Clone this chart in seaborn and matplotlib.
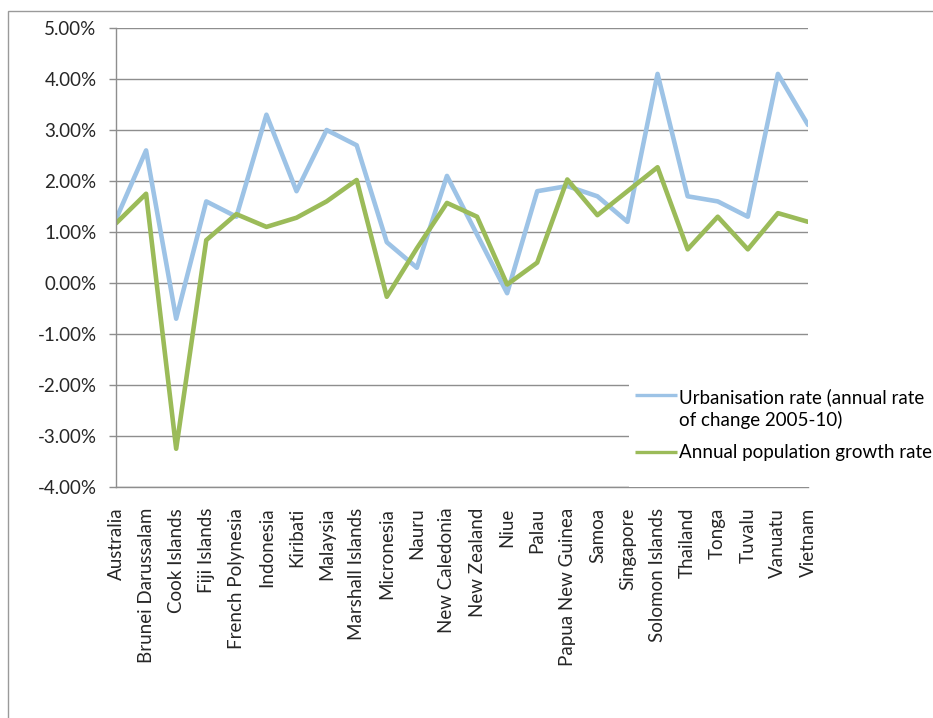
import matplotlib
matplotlib.use("Agg")
import matplotlib.pyplot as plt
from matplotlib.lines import Line2D
from matplotlib.patches import Rectangle
import numpy as np
import pandas as pd
import seaborn as sns

# Pacific / Asia urbanisation vs population growth (% per year)
countries = [
    "Australia", "Brunei Darussalam", "Cook Islands", "Fiji Islands",
    "French Polynesia", "Indonesia", "Kiribati", "Malaysia",
    "Marshall Islands", "Micronesia", "Nauru", "New Caledonia",
    "New Zealand", "Niue", "Palau", "Papua New Guinea", "Samoa",
    "Singapore", "Solomon Islands", "Thailand", "Tonga", "Tuvalu",
    "Vanuatu", "Vietnam",
]
urbanisation = [
    1.25, 2.6, -0.7, 1.6, 1.3, 3.3, 1.8, 3.0, 2.7, 0.8, 0.3, 2.1,
    0.95, -0.2, 1.8, 1.9, 1.7, 1.2, 4.1, 1.7, 1.6, 1.3, 4.1, 3.1,
]
population_growth = [
    1.17, 1.75, -3.25, 0.84, 1.35, 1.1, 1.28, 1.6, 2.02, -0.27, 0.68, 1.57,
    1.3, -0.03, 0.4, 2.03, 1.33, 1.8, 2.27, 0.66, 1.3, 0.66, 1.37, 1.2,
]
y_ticks = [-4, -3, -2, -1, 0, 1, 2, 3, 4, 5]

urban_label = "Urbanisation rate (annual rate\nof change 2005-10)"
growth_label = "Annual population growth rate"

BLUE = "#9DC3E6"
GREEN = "#9BBB59"
GRID = "#8E8E8E"
FONT_SIZE = 13.5

sns.set_style("white")
plt.rcParams["font.family"] = ["Lato", "DejaVu Sans"]
plt.rcParams["text.color"] = "#000000"

W, H = 933, 718
fig = plt.figure(figsize=(W / 100, H / 100), dpi=100)


def fx(px):
    return px / W


def fy(py):
    return 1 - py / H


ax = fig.add_axes([fx(116), fy(487), fx(808) - fx(116), fy(28) - fy(487)])

df = pd.DataFrame({
    "pos": np.arange(len(countries)),
    "country": countries,
    urban_label: urbanisation,
    growth_label: population_growth,
})
long_df = df.melt(id_vars=["pos", "country"], var_name="series", value_name="rate")

sns.lineplot(
    data=long_df, x="pos", y="rate", hue="series",
    hue_order=[urban_label, growth_label],
    palette=[BLUE, GREEN], linewidth=3.3, sort=False,
    legend=False, ax=ax,
)

ax.set_xlim(0, len(countries) - 1)
ax.set_ylim(y_ticks[0], y_ticks[-1])
ax.set_yticks(y_ticks)
ax.set_yticklabels([f"{v:.2f}%" for v in y_ticks], fontsize=FONT_SIZE)
ax.set_xticks(df["pos"])
ax.set_xticklabels(countries, rotation=90, fontsize=FONT_SIZE)
ax.set_xlabel("")
ax.set_ylabel("")

ax.set_axisbelow(True)
ax.grid(axis="y", color=GRID, linewidth=1.0)
ax.grid(axis="x", visible=False)
for side in ("top", "right"):
    ax.spines[side].set_visible(False)
for side in ("left", "bottom"):
    ax.spines[side].set_color(GRID)
    ax.spines[side].set_linewidth(1.0)
ax.tick_params(axis="y", left=True, length=5, width=1.0, color=GRID, pad=9)
ax.tick_params(axis="x", bottom=False, length=0, pad=15)

# outer chart-area border
fig.patches.append(Rectangle(
    (fx(8), -0.2), 1.5, fy(11) + 0.2, transform=fig.transFigure,
    fill=False, edgecolor="#9A9A9A", linewidth=1.0,
))

# legend panel
fig.patches.append(Rectangle(
    (fx(629), fy(486.5)), 1.0, fy(345) - fy(486.5), transform=fig.transFigure,
    facecolor="white", edgecolor="none", zorder=2,
))
for y_px, color in ((395, BLUE), (452, GREEN)):
    fig.lines.append(Line2D(
        [fx(635), fx(677)], [fy(y_px), fy(y_px)], transform=fig.transFigure,
        color=color, linewidth=2.4, solid_capstyle="butt", zorder=3,
    ))
for y_px, text in ((397, "Urbanisation rate (annual rate"),
                   (420, "of change 2005-10)"),
                   (452, growth_label)):
    fig.text(fx(679), fy(y_px), text, fontsize=FONT_SIZE, va="center",
             ha="left", zorder=4)

fig.savefig("out.png", dpi=100)
